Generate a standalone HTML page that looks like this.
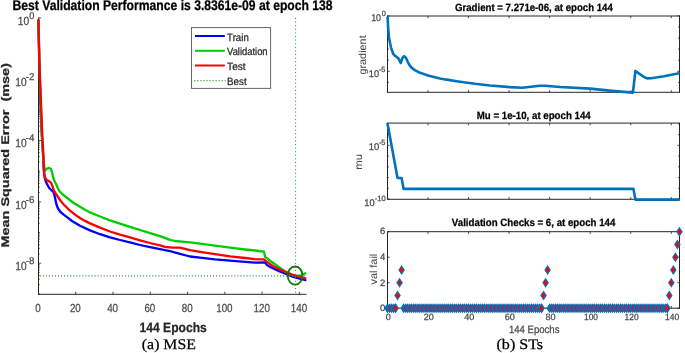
<!DOCTYPE html>
<html><head><meta charset="utf-8"><style>
html,body{margin:0;padding:0;background:#fff;}
body{width:685px;height:353px;overflow:hidden;}
svg{display:block;will-change:transform;font-family:"Liberation Sans",sans-serif;}
text{white-space:pre;text-rendering:geometricPrecision;}
</style></head><body>
<svg width="685" height="353" viewBox="0 0 685 353">
<rect width="685" height="353" fill="#fff"/>
<line x1="38.50" y1="17.80" x2="38.50" y2="294.80" stroke="#262626" stroke-width="1"/>
<line x1="38.00" y1="294.30" x2="306.50" y2="294.30" stroke="#262626" stroke-width="1"/>
<line x1="38.50" y1="294.30" x2="38.50" y2="291.70" stroke="#262626" stroke-width="0.8"/>
<line x1="75.76" y1="294.30" x2="75.76" y2="291.70" stroke="#262626" stroke-width="0.8"/>
<line x1="113.02" y1="294.30" x2="113.02" y2="291.70" stroke="#262626" stroke-width="0.8"/>
<line x1="150.28" y1="294.30" x2="150.28" y2="291.70" stroke="#262626" stroke-width="0.8"/>
<line x1="187.54" y1="294.30" x2="187.54" y2="291.70" stroke="#262626" stroke-width="0.8"/>
<line x1="224.80" y1="294.30" x2="224.80" y2="291.70" stroke="#262626" stroke-width="0.8"/>
<line x1="262.06" y1="294.30" x2="262.06" y2="291.70" stroke="#262626" stroke-width="0.8"/>
<line x1="299.32" y1="294.30" x2="299.32" y2="291.70" stroke="#262626" stroke-width="0.8"/>
<line x1="38.50" y1="17.80" x2="41.10" y2="17.80" stroke="#262626" stroke-width="0.8"/>
<line x1="38.50" y1="39.24" x2="39.90" y2="39.24" stroke="#262626" stroke-width="0.6"/>
<line x1="38.50" y1="33.84" x2="39.90" y2="33.84" stroke="#262626" stroke-width="0.6"/>
<line x1="38.50" y1="30.00" x2="39.90" y2="30.00" stroke="#262626" stroke-width="0.6"/>
<line x1="38.50" y1="27.03" x2="39.90" y2="27.03" stroke="#262626" stroke-width="0.6"/>
<line x1="38.50" y1="24.60" x2="39.90" y2="24.60" stroke="#262626" stroke-width="0.6"/>
<line x1="38.50" y1="22.55" x2="39.90" y2="22.55" stroke="#262626" stroke-width="0.6"/>
<line x1="38.50" y1="20.77" x2="39.90" y2="20.77" stroke="#262626" stroke-width="0.6"/>
<line x1="38.50" y1="19.20" x2="39.90" y2="19.20" stroke="#262626" stroke-width="0.6"/>
<line x1="38.50" y1="48.47" x2="39.90" y2="48.47" stroke="#262626" stroke-width="0.8"/>
<line x1="38.50" y1="69.91" x2="39.90" y2="69.91" stroke="#262626" stroke-width="0.6"/>
<line x1="38.50" y1="64.51" x2="39.90" y2="64.51" stroke="#262626" stroke-width="0.6"/>
<line x1="38.50" y1="60.67" x2="39.90" y2="60.67" stroke="#262626" stroke-width="0.6"/>
<line x1="38.50" y1="57.70" x2="39.90" y2="57.70" stroke="#262626" stroke-width="0.6"/>
<line x1="38.50" y1="55.27" x2="39.90" y2="55.27" stroke="#262626" stroke-width="0.6"/>
<line x1="38.50" y1="53.22" x2="39.90" y2="53.22" stroke="#262626" stroke-width="0.6"/>
<line x1="38.50" y1="51.44" x2="39.90" y2="51.44" stroke="#262626" stroke-width="0.6"/>
<line x1="38.50" y1="49.87" x2="39.90" y2="49.87" stroke="#262626" stroke-width="0.6"/>
<line x1="38.50" y1="79.14" x2="41.10" y2="79.14" stroke="#262626" stroke-width="0.8"/>
<line x1="38.50" y1="100.58" x2="39.90" y2="100.58" stroke="#262626" stroke-width="0.6"/>
<line x1="38.50" y1="95.18" x2="39.90" y2="95.18" stroke="#262626" stroke-width="0.6"/>
<line x1="38.50" y1="91.34" x2="39.90" y2="91.34" stroke="#262626" stroke-width="0.6"/>
<line x1="38.50" y1="88.37" x2="39.90" y2="88.37" stroke="#262626" stroke-width="0.6"/>
<line x1="38.50" y1="85.94" x2="39.90" y2="85.94" stroke="#262626" stroke-width="0.6"/>
<line x1="38.50" y1="83.89" x2="39.90" y2="83.89" stroke="#262626" stroke-width="0.6"/>
<line x1="38.50" y1="82.11" x2="39.90" y2="82.11" stroke="#262626" stroke-width="0.6"/>
<line x1="38.50" y1="80.54" x2="39.90" y2="80.54" stroke="#262626" stroke-width="0.6"/>
<line x1="38.50" y1="109.81" x2="39.90" y2="109.81" stroke="#262626" stroke-width="0.8"/>
<line x1="38.50" y1="131.25" x2="39.90" y2="131.25" stroke="#262626" stroke-width="0.6"/>
<line x1="38.50" y1="125.85" x2="39.90" y2="125.85" stroke="#262626" stroke-width="0.6"/>
<line x1="38.50" y1="122.01" x2="39.90" y2="122.01" stroke="#262626" stroke-width="0.6"/>
<line x1="38.50" y1="119.04" x2="39.90" y2="119.04" stroke="#262626" stroke-width="0.6"/>
<line x1="38.50" y1="116.61" x2="39.90" y2="116.61" stroke="#262626" stroke-width="0.6"/>
<line x1="38.50" y1="114.56" x2="39.90" y2="114.56" stroke="#262626" stroke-width="0.6"/>
<line x1="38.50" y1="112.78" x2="39.90" y2="112.78" stroke="#262626" stroke-width="0.6"/>
<line x1="38.50" y1="111.21" x2="39.90" y2="111.21" stroke="#262626" stroke-width="0.6"/>
<line x1="38.50" y1="140.48" x2="41.10" y2="140.48" stroke="#262626" stroke-width="0.8"/>
<line x1="38.50" y1="161.92" x2="39.90" y2="161.92" stroke="#262626" stroke-width="0.6"/>
<line x1="38.50" y1="156.52" x2="39.90" y2="156.52" stroke="#262626" stroke-width="0.6"/>
<line x1="38.50" y1="152.68" x2="39.90" y2="152.68" stroke="#262626" stroke-width="0.6"/>
<line x1="38.50" y1="149.71" x2="39.90" y2="149.71" stroke="#262626" stroke-width="0.6"/>
<line x1="38.50" y1="147.28" x2="39.90" y2="147.28" stroke="#262626" stroke-width="0.6"/>
<line x1="38.50" y1="145.23" x2="39.90" y2="145.23" stroke="#262626" stroke-width="0.6"/>
<line x1="38.50" y1="143.45" x2="39.90" y2="143.45" stroke="#262626" stroke-width="0.6"/>
<line x1="38.50" y1="141.88" x2="39.90" y2="141.88" stroke="#262626" stroke-width="0.6"/>
<line x1="38.50" y1="171.15" x2="39.90" y2="171.15" stroke="#262626" stroke-width="0.8"/>
<line x1="38.50" y1="192.59" x2="39.90" y2="192.59" stroke="#262626" stroke-width="0.6"/>
<line x1="38.50" y1="187.19" x2="39.90" y2="187.19" stroke="#262626" stroke-width="0.6"/>
<line x1="38.50" y1="183.35" x2="39.90" y2="183.35" stroke="#262626" stroke-width="0.6"/>
<line x1="38.50" y1="180.38" x2="39.90" y2="180.38" stroke="#262626" stroke-width="0.6"/>
<line x1="38.50" y1="177.95" x2="39.90" y2="177.95" stroke="#262626" stroke-width="0.6"/>
<line x1="38.50" y1="175.90" x2="39.90" y2="175.90" stroke="#262626" stroke-width="0.6"/>
<line x1="38.50" y1="174.12" x2="39.90" y2="174.12" stroke="#262626" stroke-width="0.6"/>
<line x1="38.50" y1="172.55" x2="39.90" y2="172.55" stroke="#262626" stroke-width="0.6"/>
<line x1="38.50" y1="201.82" x2="41.10" y2="201.82" stroke="#262626" stroke-width="0.8"/>
<line x1="38.50" y1="223.26" x2="39.90" y2="223.26" stroke="#262626" stroke-width="0.6"/>
<line x1="38.50" y1="217.86" x2="39.90" y2="217.86" stroke="#262626" stroke-width="0.6"/>
<line x1="38.50" y1="214.02" x2="39.90" y2="214.02" stroke="#262626" stroke-width="0.6"/>
<line x1="38.50" y1="211.05" x2="39.90" y2="211.05" stroke="#262626" stroke-width="0.6"/>
<line x1="38.50" y1="208.62" x2="39.90" y2="208.62" stroke="#262626" stroke-width="0.6"/>
<line x1="38.50" y1="206.57" x2="39.90" y2="206.57" stroke="#262626" stroke-width="0.6"/>
<line x1="38.50" y1="204.79" x2="39.90" y2="204.79" stroke="#262626" stroke-width="0.6"/>
<line x1="38.50" y1="203.22" x2="39.90" y2="203.22" stroke="#262626" stroke-width="0.6"/>
<line x1="38.50" y1="232.49" x2="39.90" y2="232.49" stroke="#262626" stroke-width="0.8"/>
<line x1="38.50" y1="253.93" x2="39.90" y2="253.93" stroke="#262626" stroke-width="0.6"/>
<line x1="38.50" y1="248.53" x2="39.90" y2="248.53" stroke="#262626" stroke-width="0.6"/>
<line x1="38.50" y1="244.69" x2="39.90" y2="244.69" stroke="#262626" stroke-width="0.6"/>
<line x1="38.50" y1="241.72" x2="39.90" y2="241.72" stroke="#262626" stroke-width="0.6"/>
<line x1="38.50" y1="239.29" x2="39.90" y2="239.29" stroke="#262626" stroke-width="0.6"/>
<line x1="38.50" y1="237.24" x2="39.90" y2="237.24" stroke="#262626" stroke-width="0.6"/>
<line x1="38.50" y1="235.46" x2="39.90" y2="235.46" stroke="#262626" stroke-width="0.6"/>
<line x1="38.50" y1="233.89" x2="39.90" y2="233.89" stroke="#262626" stroke-width="0.6"/>
<line x1="38.50" y1="263.16" x2="41.10" y2="263.16" stroke="#262626" stroke-width="0.8"/>
<line x1="38.50" y1="284.60" x2="39.90" y2="284.60" stroke="#262626" stroke-width="0.6"/>
<line x1="38.50" y1="279.20" x2="39.90" y2="279.20" stroke="#262626" stroke-width="0.6"/>
<line x1="38.50" y1="275.36" x2="39.90" y2="275.36" stroke="#262626" stroke-width="0.6"/>
<line x1="38.50" y1="272.39" x2="39.90" y2="272.39" stroke="#262626" stroke-width="0.6"/>
<line x1="38.50" y1="269.96" x2="39.90" y2="269.96" stroke="#262626" stroke-width="0.6"/>
<line x1="38.50" y1="267.91" x2="39.90" y2="267.91" stroke="#262626" stroke-width="0.6"/>
<line x1="38.50" y1="266.13" x2="39.90" y2="266.13" stroke="#262626" stroke-width="0.6"/>
<line x1="38.50" y1="264.56" x2="39.90" y2="264.56" stroke="#262626" stroke-width="0.6"/>
<line x1="38.50" y1="293.83" x2="39.90" y2="293.83" stroke="#262626" stroke-width="0.8"/>
<polyline points="38.40,21.00 39.30,60.00 40.30,100.00 41.80,135.00 43.10,155.00 43.80,170.00 44.60,177.50 45.60,181.00 47.10,184.30 49.20,188.00 51.30,190.00 53.20,191.50 54.50,195.50 55.50,200.00 56.50,204.50 58.00,208.50 60.50,212.00 64.00,214.80 68.00,217.80 72.00,221.00 80.00,225.80 90.00,230.40 100.00,234.20 110.00,237.40 120.00,240.00 130.00,242.40 140.00,245.00 150.00,247.20 160.00,249.20 170.00,251.20 180.00,253.80 190.00,256.50 200.00,257.70 215.00,259.40 230.00,260.70 245.00,261.90 255.00,262.60 264.90,262.50 267.30,265.20 270.80,267.20 279.10,271.10 285.50,273.70 293.20,276.90 305.30,280.10" fill="none" stroke="#0000ff" stroke-width="2.3" stroke-linejoin="round" stroke-linecap="round"/>
<polyline points="38.40,21.00 39.30,60.00 40.50,100.00 41.90,135.00 43.30,160.00 45.00,170.70 47.10,168.50 49.20,167.80 51.00,169.20 52.00,172.50 53.20,177.50 54.50,181.00 56.00,184.00 58.00,188.50 60.00,191.80 62.00,193.80 64.00,195.50 68.00,198.50 70.00,200.20 75.00,203.80 80.00,206.80 85.00,209.80 90.00,212.40 100.00,216.50 110.00,220.30 120.00,223.70 130.00,226.90 140.00,230.00 150.00,233.20 160.00,236.20 170.00,239.80 175.00,241.00 182.00,241.60 190.00,242.30 200.00,243.60 215.00,245.70 230.00,247.70 245.00,249.50 255.00,250.50 263.90,251.60 265.30,257.30 267.30,258.30 270.80,261.30 279.10,267.30 285.50,271.80 293.20,275.40 300.80,275.60 305.30,273.30" fill="none" stroke="#00cc00" stroke-width="2.3" stroke-linejoin="round" stroke-linecap="round"/>
<polyline points="38.40,20.00 39.30,60.00 40.30,85.00 41.00,103.00 42.00,128.00 42.50,140.00 43.30,153.60 43.80,167.30 44.30,174.00 45.20,178.00 46.50,180.00 48.50,181.00 50.20,182.00 51.30,183.20 52.60,186.50 53.60,190.00 56.00,194.00 58.00,197.00 60.00,200.00 62.00,202.50 64.00,204.70 68.00,208.70 70.00,210.70 75.00,214.60 80.00,218.00 85.00,220.90 90.00,223.40 100.00,227.60 110.00,231.50 120.00,234.60 130.00,237.40 140.00,240.30 150.00,243.00 160.00,245.40 165.00,246.80 172.00,247.60 180.00,247.60 190.00,250.10 200.00,251.80 215.00,254.20 230.00,256.30 245.00,258.00 255.00,259.10 263.90,259.30 265.80,260.80 269.80,263.80 272.80,266.00 279.10,269.20 285.50,271.80 293.20,275.00 305.30,278.40" fill="none" stroke="#ff0000" stroke-width="2.3" stroke-linejoin="round" stroke-linecap="round"/>
<line x1="295.59" y1="18" x2="295.59" y2="294.30" stroke="#259025" stroke-width="1" stroke-dasharray="1 2.6"/>
<line x1="39.80" y1="275.85" x2="306.50" y2="275.85" stroke="#259025" stroke-width="1.2" stroke-dasharray="1 2.04"/>
<ellipse cx="295.1" cy="275.6" rx="7.4" ry="9.1" fill="none" stroke="#087808" stroke-width="1.8"/>
<text x="38.10" y="312.30" font-size="11.70" fill="#4a4a4a" stroke="#4a4a4a" stroke-width="0.25" text-anchor="middle" textLength="5.49" lengthAdjust="spacingAndGlyphs">0</text>
<text x="75.36" y="312.30" font-size="11.70" fill="#4a4a4a" stroke="#4a4a4a" stroke-width="0.25" text-anchor="middle" textLength="10.89" lengthAdjust="spacingAndGlyphs">20</text>
<text x="112.62" y="312.30" font-size="11.70" fill="#4a4a4a" stroke="#4a4a4a" stroke-width="0.25" text-anchor="middle" textLength="10.89" lengthAdjust="spacingAndGlyphs">40</text>
<text x="149.88" y="312.30" font-size="11.70" fill="#4a4a4a" stroke="#4a4a4a" stroke-width="0.25" text-anchor="middle" textLength="10.89" lengthAdjust="spacingAndGlyphs">60</text>
<text x="187.14" y="312.30" font-size="11.70" fill="#4a4a4a" stroke="#4a4a4a" stroke-width="0.25" text-anchor="middle" textLength="10.89" lengthAdjust="spacingAndGlyphs">80</text>
<text x="224.40" y="312.30" font-size="11.70" fill="#4a4a4a" stroke="#4a4a4a" stroke-width="0.25" text-anchor="middle" textLength="16.38" lengthAdjust="spacingAndGlyphs">100</text>
<text x="261.66" y="312.30" font-size="11.70" fill="#4a4a4a" stroke="#4a4a4a" stroke-width="0.25" text-anchor="middle" textLength="16.38" lengthAdjust="spacingAndGlyphs">120</text>
<text x="298.92" y="312.30" font-size="11.70" fill="#4a4a4a" stroke="#4a4a4a" stroke-width="0.25" text-anchor="middle" textLength="16.38" lengthAdjust="spacingAndGlyphs">140</text>
<text x="17.77" y="24.60" font-size="11.80" fill="#4a4a4a" stroke="#4a4a4a" stroke-width="0.25" textLength="11.40" lengthAdjust="spacingAndGlyphs">10</text>
<text x="29.30" y="18.60" font-size="9.80" fill="#4a4a4a" stroke="#4a4a4a" stroke-width="0.25" textLength="5.10" lengthAdjust="spacingAndGlyphs">0</text>
<text x="15.20" y="85.94" font-size="11.80" fill="#4a4a4a" stroke="#4a4a4a" stroke-width="0.25" textLength="11.40" lengthAdjust="spacingAndGlyphs">10</text>
<text x="25.67" y="80.04" font-size="9.80" fill="#4a4a4a" stroke="#4a4a4a" stroke-width="0.25" textLength="8.63" lengthAdjust="spacingAndGlyphs">-2</text>
<text x="15.20" y="147.28" font-size="11.80" fill="#4a4a4a" stroke="#4a4a4a" stroke-width="0.25" textLength="11.40" lengthAdjust="spacingAndGlyphs">10</text>
<text x="25.67" y="141.38" font-size="9.80" fill="#4a4a4a" stroke="#4a4a4a" stroke-width="0.25" textLength="8.63" lengthAdjust="spacingAndGlyphs">-4</text>
<text x="15.20" y="208.62" font-size="11.80" fill="#4a4a4a" stroke="#4a4a4a" stroke-width="0.25" textLength="11.40" lengthAdjust="spacingAndGlyphs">10</text>
<text x="25.67" y="202.72" font-size="9.80" fill="#4a4a4a" stroke="#4a4a4a" stroke-width="0.25" textLength="8.63" lengthAdjust="spacingAndGlyphs">-6</text>
<text x="15.20" y="269.96" font-size="11.80" fill="#4a4a4a" stroke="#4a4a4a" stroke-width="0.25" textLength="11.40" lengthAdjust="spacingAndGlyphs">10</text>
<text x="25.67" y="264.06" font-size="9.80" fill="#4a4a4a" stroke="#4a4a4a" stroke-width="0.25" textLength="8.63" lengthAdjust="spacingAndGlyphs">-8</text>
<text x="12.52" y="10.45" font-size="14.00" font-weight="bold" fill="#000" stroke="#000" stroke-width="0.25" textLength="320.10" lengthAdjust="spacingAndGlyphs">Best Validation Performance is 3.8361e-09 at epoch 138</text>
<text transform="translate(8.60,247.46) rotate(-90)" font-size="11.04" font-weight="bold" fill="#262626" stroke="#262626" stroke-width="0.25" textLength="184.40" lengthAdjust="spacingAndGlyphs">Mean Squared Error&#160;&#160;(mse)</text>
<text x="139.60" y="331.85" font-size="13.48" font-weight="bold" fill="#262626" stroke="#262626" stroke-width="0.25" textLength="67.20" lengthAdjust="spacingAndGlyphs">144 Epochs</text>
<text x="141.85" y="349.30" font-family='"Liberation Serif", serif' font-size="14.70" fill="#000" stroke="#000" stroke-width="0.25" textLength="54.10" lengthAdjust="spacingAndGlyphs">(a) MSE</text>
<rect x="191.5" y="27.6" width="79.1" height="60.8" fill="#fff" stroke="#666" stroke-width="1"/>
<line x1="195.00" y1="36.00" x2="224.80" y2="36.00" stroke="#0000ff" stroke-width="2"/>
<line x1="195.00" y1="50.80" x2="224.80" y2="50.80" stroke="#00cc00" stroke-width="2"/>
<line x1="195.00" y1="65.50" x2="224.80" y2="65.50" stroke="#ff0000" stroke-width="2"/>
<line x1="194.3" y1="80.6" x2="225.5" y2="80.6" stroke="#259025" stroke-width="1.2" stroke-dasharray="1 2.04"/>
<text x="227.10" y="40.50" font-size="10.50" fill="#262626" stroke="#262626" stroke-width="0.25" textLength="21.70" lengthAdjust="spacingAndGlyphs">Train</text>
<text x="227.10" y="55.30" font-size="10.50" fill="#262626" stroke="#262626" stroke-width="0.25" textLength="40.50" lengthAdjust="spacingAndGlyphs">Validation</text>
<text x="227.10" y="70.00" font-size="10.50" fill="#262626" stroke="#262626" stroke-width="0.25" textLength="18.60" lengthAdjust="spacingAndGlyphs">Test</text>
<text x="227.10" y="84.70" font-size="10.50" fill="#262626" stroke="#262626" stroke-width="0.25" textLength="19.50" lengthAdjust="spacingAndGlyphs">Best</text>
<line x1="387.50" y1="16.00" x2="679.50" y2="16.00" stroke="#262626" stroke-width="1"/>
<line x1="387.50" y1="92.30" x2="679.50" y2="92.30" stroke="#262626" stroke-width="1"/>
<line x1="387.50" y1="15.50" x2="387.50" y2="92.80" stroke="#262626" stroke-width="1"/>
<line x1="679.50" y1="15.50" x2="679.50" y2="92.80" stroke="#262626" stroke-width="1"/>
<line x1="387.40" y1="92.30" x2="387.40" y2="90.10" stroke="#262626" stroke-width="0.8"/>
<line x1="387.40" y1="16.00" x2="387.40" y2="18.20" stroke="#262626" stroke-width="0.8"/>
<line x1="427.96" y1="92.30" x2="427.96" y2="90.10" stroke="#262626" stroke-width="0.8"/>
<line x1="427.96" y1="16.00" x2="427.96" y2="18.20" stroke="#262626" stroke-width="0.8"/>
<line x1="468.52" y1="92.30" x2="468.52" y2="90.10" stroke="#262626" stroke-width="0.8"/>
<line x1="468.52" y1="16.00" x2="468.52" y2="18.20" stroke="#262626" stroke-width="0.8"/>
<line x1="509.08" y1="92.30" x2="509.08" y2="90.10" stroke="#262626" stroke-width="0.8"/>
<line x1="509.08" y1="16.00" x2="509.08" y2="18.20" stroke="#262626" stroke-width="0.8"/>
<line x1="549.64" y1="92.30" x2="549.64" y2="90.10" stroke="#262626" stroke-width="0.8"/>
<line x1="549.64" y1="16.00" x2="549.64" y2="18.20" stroke="#262626" stroke-width="0.8"/>
<line x1="590.20" y1="92.30" x2="590.20" y2="90.10" stroke="#262626" stroke-width="0.8"/>
<line x1="590.20" y1="16.00" x2="590.20" y2="18.20" stroke="#262626" stroke-width="0.8"/>
<line x1="630.76" y1="92.30" x2="630.76" y2="90.10" stroke="#262626" stroke-width="0.8"/>
<line x1="630.76" y1="16.00" x2="630.76" y2="18.20" stroke="#262626" stroke-width="0.8"/>
<line x1="671.32" y1="92.30" x2="671.32" y2="90.10" stroke="#262626" stroke-width="0.8"/>
<line x1="671.32" y1="16.00" x2="671.32" y2="18.20" stroke="#262626" stroke-width="0.8"/>
<line x1="387.50" y1="15.80" x2="389.70" y2="15.80" stroke="#262626" stroke-width="0.8"/>
<line x1="679.50" y1="15.80" x2="677.30" y2="15.80" stroke="#262626" stroke-width="0.8"/>
<line x1="387.50" y1="26.90" x2="388.90" y2="26.90" stroke="#262626" stroke-width="0.8"/>
<line x1="679.50" y1="26.90" x2="678.10" y2="26.90" stroke="#262626" stroke-width="0.8"/>
<line x1="387.50" y1="38.00" x2="388.90" y2="38.00" stroke="#262626" stroke-width="0.8"/>
<line x1="679.50" y1="38.00" x2="678.10" y2="38.00" stroke="#262626" stroke-width="0.8"/>
<line x1="387.50" y1="49.10" x2="388.90" y2="49.10" stroke="#262626" stroke-width="0.8"/>
<line x1="679.50" y1="49.10" x2="678.10" y2="49.10" stroke="#262626" stroke-width="0.8"/>
<line x1="387.50" y1="60.20" x2="388.90" y2="60.20" stroke="#262626" stroke-width="0.8"/>
<line x1="679.50" y1="60.20" x2="678.10" y2="60.20" stroke="#262626" stroke-width="0.8"/>
<line x1="387.50" y1="71.30" x2="389.70" y2="71.30" stroke="#262626" stroke-width="0.8"/>
<line x1="679.50" y1="71.30" x2="677.30" y2="71.30" stroke="#262626" stroke-width="0.8"/>
<line x1="387.50" y1="82.40" x2="388.90" y2="82.40" stroke="#262626" stroke-width="0.8"/>
<line x1="679.50" y1="82.40" x2="678.10" y2="82.40" stroke="#262626" stroke-width="0.8"/>
<polyline points="387.60,16.60 388.00,25.80 389.00,37.70 391.00,47.60 393.40,54.20 395.00,55.80 398.40,58.40 400.70,63.00 402.60,57.60 404.10,56.10 405.90,57.80 407.60,61.50 409.20,64.60 411.50,67.60 414.80,70.10 420.00,72.80 429.00,75.70 440.00,78.40 445.00,79.40 460.00,81.70 475.00,83.80 490.00,85.50 510.00,87.10 522.30,87.70 531.00,86.80 539.80,85.70 545.00,85.70 560.00,87.00 590.10,88.60 614.70,91.10 632.90,92.60 635.40,71.00 640.60,74.60 644.50,77.30 647.60,78.40 651.00,78.20 656.00,77.50 664.00,76.20 671.30,74.70 679.50,73.20" fill="none" stroke="#0072bd" stroke-width="2.6" stroke-linejoin="round" stroke-linecap="butt"/>
<text x="455.01" y="11.00" font-size="10.50" font-weight="bold" fill="#000" stroke="#000" stroke-width="0.25" textLength="157.80" lengthAdjust="spacingAndGlyphs">Gradient = 7.271e-06, at epoch 144</text>
<text transform="translate(365.60,74.60) rotate(-90)" font-size="10.30" fill="#4a4a4a" stroke="#4a4a4a" stroke-width="0.05" textLength="39.30" lengthAdjust="spacingAndGlyphs">gradient</text>
<text x="371.14" y="21.04" font-size="9.70" fill="#4a4a4a" stroke="#4a4a4a" stroke-width="0.25" textLength="9.90" lengthAdjust="spacingAndGlyphs">10</text>
<text x="381.73" y="16.10" font-size="7.60" fill="#4a4a4a" stroke="#4a4a4a" stroke-width="0.25" textLength="4.10" lengthAdjust="spacingAndGlyphs">0</text>
<text x="368.82" y="76.60" font-size="9.70" fill="#4a4a4a" stroke="#4a4a4a" stroke-width="0.25" textLength="10.30" lengthAdjust="spacingAndGlyphs">10</text>
<text x="378.90" y="72.10" font-size="7.60" fill="#4a4a4a" stroke="#4a4a4a" stroke-width="0.25" textLength="6.60" lengthAdjust="spacingAndGlyphs">-5</text>
<line x1="387.50" y1="123.10" x2="679.50" y2="123.10" stroke="#262626" stroke-width="1"/>
<line x1="387.50" y1="199.30" x2="679.50" y2="199.30" stroke="#262626" stroke-width="1"/>
<line x1="387.50" y1="122.60" x2="387.50" y2="199.80" stroke="#262626" stroke-width="1"/>
<line x1="679.50" y1="122.60" x2="679.50" y2="199.80" stroke="#262626" stroke-width="1"/>
<line x1="387.40" y1="199.30" x2="387.40" y2="197.10" stroke="#262626" stroke-width="0.8"/>
<line x1="387.40" y1="123.10" x2="387.40" y2="125.30" stroke="#262626" stroke-width="0.8"/>
<line x1="427.96" y1="199.30" x2="427.96" y2="197.10" stroke="#262626" stroke-width="0.8"/>
<line x1="427.96" y1="123.10" x2="427.96" y2="125.30" stroke="#262626" stroke-width="0.8"/>
<line x1="468.52" y1="199.30" x2="468.52" y2="197.10" stroke="#262626" stroke-width="0.8"/>
<line x1="468.52" y1="123.10" x2="468.52" y2="125.30" stroke="#262626" stroke-width="0.8"/>
<line x1="509.08" y1="199.30" x2="509.08" y2="197.10" stroke="#262626" stroke-width="0.8"/>
<line x1="509.08" y1="123.10" x2="509.08" y2="125.30" stroke="#262626" stroke-width="0.8"/>
<line x1="549.64" y1="199.30" x2="549.64" y2="197.10" stroke="#262626" stroke-width="0.8"/>
<line x1="549.64" y1="123.10" x2="549.64" y2="125.30" stroke="#262626" stroke-width="0.8"/>
<line x1="590.20" y1="199.30" x2="590.20" y2="197.10" stroke="#262626" stroke-width="0.8"/>
<line x1="590.20" y1="123.10" x2="590.20" y2="125.30" stroke="#262626" stroke-width="0.8"/>
<line x1="630.76" y1="199.30" x2="630.76" y2="197.10" stroke="#262626" stroke-width="0.8"/>
<line x1="630.76" y1="123.10" x2="630.76" y2="125.30" stroke="#262626" stroke-width="0.8"/>
<line x1="671.32" y1="199.30" x2="671.32" y2="197.10" stroke="#262626" stroke-width="0.8"/>
<line x1="671.32" y1="123.10" x2="671.32" y2="125.30" stroke="#262626" stroke-width="0.8"/>
<line x1="387.50" y1="123.86" x2="388.90" y2="123.86" stroke="#262626" stroke-width="0.8"/>
<line x1="679.50" y1="123.86" x2="678.10" y2="123.86" stroke="#262626" stroke-width="0.8"/>
<line x1="387.50" y1="134.60" x2="388.90" y2="134.60" stroke="#262626" stroke-width="0.8"/>
<line x1="679.50" y1="134.60" x2="678.10" y2="134.60" stroke="#262626" stroke-width="0.8"/>
<line x1="387.50" y1="145.34" x2="389.70" y2="145.34" stroke="#262626" stroke-width="0.8"/>
<line x1="679.50" y1="145.34" x2="677.30" y2="145.34" stroke="#262626" stroke-width="0.8"/>
<line x1="387.50" y1="156.08" x2="388.90" y2="156.08" stroke="#262626" stroke-width="0.8"/>
<line x1="679.50" y1="156.08" x2="678.10" y2="156.08" stroke="#262626" stroke-width="0.8"/>
<line x1="387.50" y1="166.82" x2="388.90" y2="166.82" stroke="#262626" stroke-width="0.8"/>
<line x1="679.50" y1="166.82" x2="678.10" y2="166.82" stroke="#262626" stroke-width="0.8"/>
<line x1="387.50" y1="177.56" x2="388.90" y2="177.56" stroke="#262626" stroke-width="0.8"/>
<line x1="679.50" y1="177.56" x2="678.10" y2="177.56" stroke="#262626" stroke-width="0.8"/>
<line x1="387.50" y1="188.30" x2="388.90" y2="188.30" stroke="#262626" stroke-width="0.8"/>
<line x1="679.50" y1="188.30" x2="678.10" y2="188.30" stroke="#262626" stroke-width="0.8"/>
<line x1="387.50" y1="199.04" x2="389.70" y2="199.04" stroke="#262626" stroke-width="0.8"/>
<line x1="679.50" y1="199.04" x2="677.30" y2="199.04" stroke="#262626" stroke-width="0.8"/>
<polyline points="387.40,123.10 397.54,177.96 401.60,177.96 403.62,188.90 633.40,188.90 635.42,199.60 679.80,199.60" fill="none" stroke="#0072bd" stroke-width="2.6" stroke-linejoin="round" stroke-linecap="butt"/>
<text x="476.80" y="118.50" font-size="10.50" font-weight="bold" fill="#000" stroke="#000" stroke-width="0.25" textLength="113.90" lengthAdjust="spacingAndGlyphs">Mu = 1e-10, at epoch 144</text>
<text transform="translate(362.10,169.75) rotate(-90)" font-size="10.30" fill="#4a4a4a" stroke="#4a4a4a" stroke-width="0.05" textLength="15.80" lengthAdjust="spacingAndGlyphs">mu</text>
<text x="368.83" y="150.30" font-size="9.70" fill="#4a4a4a" stroke="#4a4a4a" stroke-width="0.25" textLength="10.40" lengthAdjust="spacingAndGlyphs">10</text>
<text x="378.90" y="145.40" font-size="7.60" fill="#4a4a4a" stroke="#4a4a4a" stroke-width="0.25" textLength="6.60" lengthAdjust="spacingAndGlyphs">-5</text>
<text x="364.36" y="205.50" font-size="9.70" fill="#4a4a4a" stroke="#4a4a4a" stroke-width="0.25" textLength="10.40" lengthAdjust="spacingAndGlyphs">10</text>
<text x="374.80" y="200.90" font-size="7.60" fill="#4a4a4a" stroke="#4a4a4a" stroke-width="0.25" textLength="10.80" lengthAdjust="spacingAndGlyphs">-10</text>
<line x1="387.50" y1="231.70" x2="679.50" y2="231.70" stroke="#262626" stroke-width="1"/>
<line x1="387.50" y1="308.20" x2="679.50" y2="308.20" stroke="#262626" stroke-width="1"/>
<line x1="387.50" y1="231.20" x2="387.50" y2="308.70" stroke="#262626" stroke-width="1"/>
<line x1="679.50" y1="231.20" x2="679.50" y2="308.70" stroke="#262626" stroke-width="1"/>
<line x1="387.40" y1="308.20" x2="387.40" y2="306.00" stroke="#262626" stroke-width="0.8"/>
<line x1="387.40" y1="231.70" x2="387.40" y2="233.90" stroke="#262626" stroke-width="0.8"/>
<line x1="427.96" y1="308.20" x2="427.96" y2="306.00" stroke="#262626" stroke-width="0.8"/>
<line x1="427.96" y1="231.70" x2="427.96" y2="233.90" stroke="#262626" stroke-width="0.8"/>
<line x1="468.52" y1="308.20" x2="468.52" y2="306.00" stroke="#262626" stroke-width="0.8"/>
<line x1="468.52" y1="231.70" x2="468.52" y2="233.90" stroke="#262626" stroke-width="0.8"/>
<line x1="509.08" y1="308.20" x2="509.08" y2="306.00" stroke="#262626" stroke-width="0.8"/>
<line x1="509.08" y1="231.70" x2="509.08" y2="233.90" stroke="#262626" stroke-width="0.8"/>
<line x1="549.64" y1="308.20" x2="549.64" y2="306.00" stroke="#262626" stroke-width="0.8"/>
<line x1="549.64" y1="231.70" x2="549.64" y2="233.90" stroke="#262626" stroke-width="0.8"/>
<line x1="590.20" y1="308.20" x2="590.20" y2="306.00" stroke="#262626" stroke-width="0.8"/>
<line x1="590.20" y1="231.70" x2="590.20" y2="233.90" stroke="#262626" stroke-width="0.8"/>
<line x1="630.76" y1="308.20" x2="630.76" y2="306.00" stroke="#262626" stroke-width="0.8"/>
<line x1="630.76" y1="231.70" x2="630.76" y2="233.90" stroke="#262626" stroke-width="0.8"/>
<line x1="671.32" y1="308.20" x2="671.32" y2="306.00" stroke="#262626" stroke-width="0.8"/>
<line x1="671.32" y1="231.70" x2="671.32" y2="233.90" stroke="#262626" stroke-width="0.8"/>
<line x1="387.50" y1="308.20" x2="389.70" y2="308.20" stroke="#262626" stroke-width="0.8"/>
<line x1="679.50" y1="308.20" x2="677.30" y2="308.20" stroke="#262626" stroke-width="0.8"/>
<line x1="387.50" y1="282.70" x2="389.70" y2="282.70" stroke="#262626" stroke-width="0.8"/>
<line x1="679.50" y1="282.70" x2="677.30" y2="282.70" stroke="#262626" stroke-width="0.8"/>
<line x1="387.50" y1="257.20" x2="389.70" y2="257.20" stroke="#262626" stroke-width="0.8"/>
<line x1="679.50" y1="257.20" x2="677.30" y2="257.20" stroke="#262626" stroke-width="0.8"/>
<line x1="387.50" y1="231.70" x2="389.70" y2="231.70" stroke="#262626" stroke-width="0.8"/>
<line x1="679.50" y1="231.70" x2="677.30" y2="231.70" stroke="#262626" stroke-width="0.8"/>
<path d="M384.10,308.20L387.40,303.20L390.70,308.20L387.40,313.20Z" fill="#0072bd"/>
<path d="M386.13,308.20L389.43,303.20L392.73,308.20L389.43,313.20Z" fill="#0072bd"/>
<path d="M388.16,308.20L391.46,303.20L394.76,308.20L391.46,313.20Z" fill="#0072bd"/>
<path d="M390.18,308.20L393.48,303.20L396.78,308.20L393.48,313.20Z" fill="#0072bd"/>
<path d="M392.21,308.20L395.51,303.20L398.81,308.20L395.51,313.20Z" fill="#0072bd"/>
<polyline points="390.73,304.90 388.43,308.20 390.73,311.50" fill="none" stroke="#c81830" stroke-width="1.1"/>
<polyline points="394.78,304.90 392.48,308.20 394.78,311.50" fill="none" stroke="#c81830" stroke-width="1.1"/>
<path d="M392.21,308.20L395.51,303.20L398.81,308.20L395.51,313.20Z" fill="#0072bd"/>
<path d="M393.46,308.20L395.51,305.15L397.56,308.20L395.51,311.25Z" fill="#f00"/>
<path d="M400.32,308.20L403.62,303.20L406.92,308.20L403.62,313.20Z" fill="#0072bd"/>
<path d="M402.35,308.20L405.65,303.20L408.95,308.20L405.65,313.20Z" fill="#0072bd"/>
<path d="M404.38,308.20L407.68,303.20L410.98,308.20L407.68,313.20Z" fill="#0072bd"/>
<path d="M406.41,308.20L409.71,303.20L413.01,308.20L409.71,313.20Z" fill="#0072bd"/>
<path d="M408.44,308.20L411.74,303.20L415.04,308.20L411.74,313.20Z" fill="#0072bd"/>
<path d="M410.46,308.20L413.76,303.20L417.06,308.20L413.76,313.20Z" fill="#0072bd"/>
<path d="M412.49,308.20L415.79,303.20L419.09,308.20L415.79,313.20Z" fill="#0072bd"/>
<path d="M414.52,308.20L417.82,303.20L421.12,308.20L417.82,313.20Z" fill="#0072bd"/>
<path d="M416.55,308.20L419.85,303.20L423.15,308.20L419.85,313.20Z" fill="#0072bd"/>
<path d="M418.58,308.20L421.88,303.20L425.18,308.20L421.88,313.20Z" fill="#0072bd"/>
<path d="M420.60,308.20L423.90,303.20L427.20,308.20L423.90,313.20Z" fill="#0072bd"/>
<path d="M422.63,308.20L425.93,303.20L429.23,308.20L425.93,313.20Z" fill="#0072bd"/>
<path d="M424.66,308.20L427.96,303.20L431.26,308.20L427.96,313.20Z" fill="#0072bd"/>
<path d="M426.69,308.20L429.99,303.20L433.29,308.20L429.99,313.20Z" fill="#0072bd"/>
<path d="M428.72,308.20L432.02,303.20L435.32,308.20L432.02,313.20Z" fill="#0072bd"/>
<path d="M430.74,308.20L434.04,303.20L437.34,308.20L434.04,313.20Z" fill="#0072bd"/>
<path d="M432.77,308.20L436.07,303.20L439.37,308.20L436.07,313.20Z" fill="#0072bd"/>
<path d="M434.80,308.20L438.10,303.20L441.40,308.20L438.10,313.20Z" fill="#0072bd"/>
<path d="M436.83,308.20L440.13,303.20L443.43,308.20L440.13,313.20Z" fill="#0072bd"/>
<path d="M438.86,308.20L442.16,303.20L445.46,308.20L442.16,313.20Z" fill="#0072bd"/>
<path d="M440.88,308.20L444.18,303.20L447.48,308.20L444.18,313.20Z" fill="#0072bd"/>
<path d="M442.91,308.20L446.21,303.20L449.51,308.20L446.21,313.20Z" fill="#0072bd"/>
<path d="M444.94,308.20L448.24,303.20L451.54,308.20L448.24,313.20Z" fill="#0072bd"/>
<path d="M446.97,308.20L450.27,303.20L453.57,308.20L450.27,313.20Z" fill="#0072bd"/>
<path d="M449.00,308.20L452.30,303.20L455.60,308.20L452.30,313.20Z" fill="#0072bd"/>
<path d="M451.02,308.20L454.32,303.20L457.62,308.20L454.32,313.20Z" fill="#0072bd"/>
<path d="M453.05,308.20L456.35,303.20L459.65,308.20L456.35,313.20Z" fill="#0072bd"/>
<path d="M455.08,308.20L458.38,303.20L461.68,308.20L458.38,313.20Z" fill="#0072bd"/>
<path d="M457.11,308.20L460.41,303.20L463.71,308.20L460.41,313.20Z" fill="#0072bd"/>
<path d="M459.14,308.20L462.44,303.20L465.74,308.20L462.44,313.20Z" fill="#0072bd"/>
<path d="M461.16,308.20L464.46,303.20L467.76,308.20L464.46,313.20Z" fill="#0072bd"/>
<path d="M463.19,308.20L466.49,303.20L469.79,308.20L466.49,313.20Z" fill="#0072bd"/>
<path d="M465.22,308.20L468.52,303.20L471.82,308.20L468.52,313.20Z" fill="#0072bd"/>
<path d="M467.25,308.20L470.55,303.20L473.85,308.20L470.55,313.20Z" fill="#0072bd"/>
<path d="M469.28,308.20L472.58,303.20L475.88,308.20L472.58,313.20Z" fill="#0072bd"/>
<path d="M471.30,308.20L474.60,303.20L477.90,308.20L474.60,313.20Z" fill="#0072bd"/>
<path d="M473.33,308.20L476.63,303.20L479.93,308.20L476.63,313.20Z" fill="#0072bd"/>
<path d="M475.36,308.20L478.66,303.20L481.96,308.20L478.66,313.20Z" fill="#0072bd"/>
<path d="M477.39,308.20L480.69,303.20L483.99,308.20L480.69,313.20Z" fill="#0072bd"/>
<path d="M479.42,308.20L482.72,303.20L486.02,308.20L482.72,313.20Z" fill="#0072bd"/>
<path d="M481.44,308.20L484.74,303.20L488.04,308.20L484.74,313.20Z" fill="#0072bd"/>
<path d="M483.47,308.20L486.77,303.20L490.07,308.20L486.77,313.20Z" fill="#0072bd"/>
<path d="M485.50,308.20L488.80,303.20L492.10,308.20L488.80,313.20Z" fill="#0072bd"/>
<path d="M487.53,308.20L490.83,303.20L494.13,308.20L490.83,313.20Z" fill="#0072bd"/>
<path d="M489.56,308.20L492.86,303.20L496.16,308.20L492.86,313.20Z" fill="#0072bd"/>
<path d="M491.58,308.20L494.88,303.20L498.18,308.20L494.88,313.20Z" fill="#0072bd"/>
<path d="M493.61,308.20L496.91,303.20L500.21,308.20L496.91,313.20Z" fill="#0072bd"/>
<path d="M495.64,308.20L498.94,303.20L502.24,308.20L498.94,313.20Z" fill="#0072bd"/>
<path d="M497.67,308.20L500.97,303.20L504.27,308.20L500.97,313.20Z" fill="#0072bd"/>
<path d="M499.70,308.20L503.00,303.20L506.30,308.20L503.00,313.20Z" fill="#0072bd"/>
<path d="M501.72,308.20L505.02,303.20L508.32,308.20L505.02,313.20Z" fill="#0072bd"/>
<path d="M503.75,308.20L507.05,303.20L510.35,308.20L507.05,313.20Z" fill="#0072bd"/>
<path d="M505.78,308.20L509.08,303.20L512.38,308.20L509.08,313.20Z" fill="#0072bd"/>
<path d="M507.81,308.20L511.11,303.20L514.41,308.20L511.11,313.20Z" fill="#0072bd"/>
<path d="M509.84,308.20L513.14,303.20L516.44,308.20L513.14,313.20Z" fill="#0072bd"/>
<path d="M511.86,308.20L515.16,303.20L518.46,308.20L515.16,313.20Z" fill="#0072bd"/>
<path d="M513.89,308.20L517.19,303.20L520.49,308.20L517.19,313.20Z" fill="#0072bd"/>
<path d="M515.92,308.20L519.22,303.20L522.52,308.20L519.22,313.20Z" fill="#0072bd"/>
<path d="M517.95,308.20L521.25,303.20L524.55,308.20L521.25,313.20Z" fill="#0072bd"/>
<path d="M519.98,308.20L523.28,303.20L526.58,308.20L523.28,313.20Z" fill="#0072bd"/>
<path d="M522.00,308.20L525.30,303.20L528.60,308.20L525.30,313.20Z" fill="#0072bd"/>
<path d="M524.03,308.20L527.33,303.20L530.63,308.20L527.33,313.20Z" fill="#0072bd"/>
<path d="M526.06,308.20L529.36,303.20L532.66,308.20L529.36,313.20Z" fill="#0072bd"/>
<path d="M528.09,308.20L531.39,303.20L534.69,308.20L531.39,313.20Z" fill="#0072bd"/>
<path d="M530.12,308.20L533.42,303.20L536.72,308.20L533.42,313.20Z" fill="#0072bd"/>
<path d="M532.14,308.20L535.44,303.20L538.74,308.20L535.44,313.20Z" fill="#0072bd"/>
<path d="M534.17,308.20L537.47,303.20L540.77,308.20L537.47,313.20Z" fill="#0072bd"/>
<path d="M536.20,308.20L539.50,303.20L542.80,308.20L539.50,313.20Z" fill="#0072bd"/>
<path d="M538.23,308.20L541.53,303.20L544.83,308.20L541.53,313.20Z" fill="#0072bd"/>
<polyline points="406.95,304.90 404.65,308.20 406.95,311.50" fill="none" stroke="#c81830" stroke-width="1.1"/>
<polyline points="411.01,304.90 408.71,308.20 411.01,311.50" fill="none" stroke="#c81830" stroke-width="1.1"/>
<polyline points="415.06,304.90 412.76,308.20 415.06,311.50" fill="none" stroke="#c81830" stroke-width="1.1"/>
<polyline points="419.12,304.90 416.82,308.20 419.12,311.50" fill="none" stroke="#c81830" stroke-width="1.1"/>
<polyline points="423.18,304.90 420.88,308.20 423.18,311.50" fill="none" stroke="#c81830" stroke-width="1.1"/>
<polyline points="427.23,304.90 424.93,308.20 427.23,311.50" fill="none" stroke="#c81830" stroke-width="1.1"/>
<polyline points="431.29,304.90 428.99,308.20 431.29,311.50" fill="none" stroke="#c81830" stroke-width="1.1"/>
<polyline points="435.34,304.90 433.04,308.20 435.34,311.50" fill="none" stroke="#c81830" stroke-width="1.1"/>
<polyline points="439.40,304.90 437.10,308.20 439.40,311.50" fill="none" stroke="#c81830" stroke-width="1.1"/>
<polyline points="443.46,304.90 441.16,308.20 443.46,311.50" fill="none" stroke="#c81830" stroke-width="1.1"/>
<polyline points="447.51,304.90 445.21,308.20 447.51,311.50" fill="none" stroke="#c81830" stroke-width="1.1"/>
<polyline points="451.57,304.90 449.27,308.20 451.57,311.50" fill="none" stroke="#c81830" stroke-width="1.1"/>
<polyline points="455.62,304.90 453.32,308.20 455.62,311.50" fill="none" stroke="#c81830" stroke-width="1.1"/>
<polyline points="459.68,304.90 457.38,308.20 459.68,311.50" fill="none" stroke="#c81830" stroke-width="1.1"/>
<polyline points="463.74,304.90 461.44,308.20 463.74,311.50" fill="none" stroke="#c81830" stroke-width="1.1"/>
<polyline points="467.79,304.90 465.49,308.20 467.79,311.50" fill="none" stroke="#c81830" stroke-width="1.1"/>
<polyline points="471.85,304.90 469.55,308.20 471.85,311.50" fill="none" stroke="#c81830" stroke-width="1.1"/>
<polyline points="475.90,304.90 473.60,308.20 475.90,311.50" fill="none" stroke="#c81830" stroke-width="1.1"/>
<polyline points="479.96,304.90 477.66,308.20 479.96,311.50" fill="none" stroke="#c81830" stroke-width="1.1"/>
<polyline points="484.02,304.90 481.72,308.20 484.02,311.50" fill="none" stroke="#c81830" stroke-width="1.1"/>
<polyline points="488.07,304.90 485.77,308.20 488.07,311.50" fill="none" stroke="#c81830" stroke-width="1.1"/>
<polyline points="492.13,304.90 489.83,308.20 492.13,311.50" fill="none" stroke="#c81830" stroke-width="1.1"/>
<polyline points="496.18,304.90 493.88,308.20 496.18,311.50" fill="none" stroke="#c81830" stroke-width="1.1"/>
<polyline points="500.24,304.90 497.94,308.20 500.24,311.50" fill="none" stroke="#c81830" stroke-width="1.1"/>
<polyline points="504.30,304.90 502.00,308.20 504.30,311.50" fill="none" stroke="#c81830" stroke-width="1.1"/>
<polyline points="508.35,304.90 506.05,308.20 508.35,311.50" fill="none" stroke="#c81830" stroke-width="1.1"/>
<polyline points="512.41,304.90 510.11,308.20 512.41,311.50" fill="none" stroke="#c81830" stroke-width="1.1"/>
<polyline points="516.46,304.90 514.16,308.20 516.46,311.50" fill="none" stroke="#c81830" stroke-width="1.1"/>
<polyline points="520.52,304.90 518.22,308.20 520.52,311.50" fill="none" stroke="#c81830" stroke-width="1.1"/>
<polyline points="524.58,304.90 522.28,308.20 524.58,311.50" fill="none" stroke="#c81830" stroke-width="1.1"/>
<polyline points="528.63,304.90 526.33,308.20 528.63,311.50" fill="none" stroke="#c81830" stroke-width="1.1"/>
<polyline points="532.69,304.90 530.39,308.20 532.69,311.50" fill="none" stroke="#c81830" stroke-width="1.1"/>
<polyline points="536.74,304.90 534.44,308.20 536.74,311.50" fill="none" stroke="#c81830" stroke-width="1.1"/>
<polyline points="540.80,304.90 538.50,308.20 540.80,311.50" fill="none" stroke="#c81830" stroke-width="1.1"/>
<path d="M538.23,308.20L541.53,303.20L544.83,308.20L541.53,313.20Z" fill="#0072bd"/>
<path d="M539.48,308.20L541.53,305.15L543.58,308.20L541.53,311.25Z" fill="#f00"/>
<path d="M546.34,308.20L549.64,303.20L552.94,308.20L549.64,313.20Z" fill="#0072bd"/>
<path d="M548.37,308.20L551.67,303.20L554.97,308.20L551.67,313.20Z" fill="#0072bd"/>
<path d="M550.40,308.20L553.70,303.20L557.00,308.20L553.70,313.20Z" fill="#0072bd"/>
<path d="M552.42,308.20L555.72,303.20L559.02,308.20L555.72,313.20Z" fill="#0072bd"/>
<path d="M554.45,308.20L557.75,303.20L561.05,308.20L557.75,313.20Z" fill="#0072bd"/>
<path d="M556.48,308.20L559.78,303.20L563.08,308.20L559.78,313.20Z" fill="#0072bd"/>
<path d="M558.51,308.20L561.81,303.20L565.11,308.20L561.81,313.20Z" fill="#0072bd"/>
<path d="M560.54,308.20L563.84,303.20L567.14,308.20L563.84,313.20Z" fill="#0072bd"/>
<path d="M562.56,308.20L565.86,303.20L569.16,308.20L565.86,313.20Z" fill="#0072bd"/>
<path d="M564.59,308.20L567.89,303.20L571.19,308.20L567.89,313.20Z" fill="#0072bd"/>
<path d="M566.62,308.20L569.92,303.20L573.22,308.20L569.92,313.20Z" fill="#0072bd"/>
<path d="M568.65,308.20L571.95,303.20L575.25,308.20L571.95,313.20Z" fill="#0072bd"/>
<path d="M570.68,308.20L573.98,303.20L577.28,308.20L573.98,313.20Z" fill="#0072bd"/>
<path d="M572.70,308.20L576.00,303.20L579.30,308.20L576.00,313.20Z" fill="#0072bd"/>
<path d="M574.73,308.20L578.03,303.20L581.33,308.20L578.03,313.20Z" fill="#0072bd"/>
<path d="M576.76,308.20L580.06,303.20L583.36,308.20L580.06,313.20Z" fill="#0072bd"/>
<path d="M578.79,308.20L582.09,303.20L585.39,308.20L582.09,313.20Z" fill="#0072bd"/>
<path d="M580.82,308.20L584.12,303.20L587.42,308.20L584.12,313.20Z" fill="#0072bd"/>
<path d="M582.84,308.20L586.14,303.20L589.44,308.20L586.14,313.20Z" fill="#0072bd"/>
<path d="M584.87,308.20L588.17,303.20L591.47,308.20L588.17,313.20Z" fill="#0072bd"/>
<path d="M586.90,308.20L590.20,303.20L593.50,308.20L590.20,313.20Z" fill="#0072bd"/>
<path d="M588.93,308.20L592.23,303.20L595.53,308.20L592.23,313.20Z" fill="#0072bd"/>
<path d="M590.96,308.20L594.26,303.20L597.56,308.20L594.26,313.20Z" fill="#0072bd"/>
<path d="M592.98,308.20L596.28,303.20L599.58,308.20L596.28,313.20Z" fill="#0072bd"/>
<path d="M595.01,308.20L598.31,303.20L601.61,308.20L598.31,313.20Z" fill="#0072bd"/>
<path d="M597.04,308.20L600.34,303.20L603.64,308.20L600.34,313.20Z" fill="#0072bd"/>
<path d="M599.07,308.20L602.37,303.20L605.67,308.20L602.37,313.20Z" fill="#0072bd"/>
<path d="M601.10,308.20L604.40,303.20L607.70,308.20L604.40,313.20Z" fill="#0072bd"/>
<path d="M603.12,308.20L606.42,303.20L609.72,308.20L606.42,313.20Z" fill="#0072bd"/>
<path d="M605.15,308.20L608.45,303.20L611.75,308.20L608.45,313.20Z" fill="#0072bd"/>
<path d="M607.18,308.20L610.48,303.20L613.78,308.20L610.48,313.20Z" fill="#0072bd"/>
<path d="M609.21,308.20L612.51,303.20L615.81,308.20L612.51,313.20Z" fill="#0072bd"/>
<path d="M611.24,308.20L614.54,303.20L617.84,308.20L614.54,313.20Z" fill="#0072bd"/>
<path d="M613.26,308.20L616.56,303.20L619.86,308.20L616.56,313.20Z" fill="#0072bd"/>
<path d="M615.29,308.20L618.59,303.20L621.89,308.20L618.59,313.20Z" fill="#0072bd"/>
<path d="M617.32,308.20L620.62,303.20L623.92,308.20L620.62,313.20Z" fill="#0072bd"/>
<path d="M619.35,308.20L622.65,303.20L625.95,308.20L622.65,313.20Z" fill="#0072bd"/>
<path d="M621.38,308.20L624.68,303.20L627.98,308.20L624.68,313.20Z" fill="#0072bd"/>
<path d="M623.40,308.20L626.70,303.20L630.00,308.20L626.70,313.20Z" fill="#0072bd"/>
<path d="M625.43,308.20L628.73,303.20L632.03,308.20L628.73,313.20Z" fill="#0072bd"/>
<path d="M627.46,308.20L630.76,303.20L634.06,308.20L630.76,313.20Z" fill="#0072bd"/>
<path d="M629.49,308.20L632.79,303.20L636.09,308.20L632.79,313.20Z" fill="#0072bd"/>
<path d="M631.52,308.20L634.82,303.20L638.12,308.20L634.82,313.20Z" fill="#0072bd"/>
<path d="M633.54,308.20L636.84,303.20L640.14,308.20L636.84,313.20Z" fill="#0072bd"/>
<path d="M635.57,308.20L638.87,303.20L642.17,308.20L638.87,313.20Z" fill="#0072bd"/>
<path d="M637.60,308.20L640.90,303.20L644.20,308.20L640.90,313.20Z" fill="#0072bd"/>
<path d="M639.63,308.20L642.93,303.20L646.23,308.20L642.93,313.20Z" fill="#0072bd"/>
<path d="M641.66,308.20L644.96,303.20L648.26,308.20L644.96,313.20Z" fill="#0072bd"/>
<path d="M643.68,308.20L646.98,303.20L650.28,308.20L646.98,313.20Z" fill="#0072bd"/>
<path d="M645.71,308.20L649.01,303.20L652.31,308.20L649.01,313.20Z" fill="#0072bd"/>
<path d="M647.74,308.20L651.04,303.20L654.34,308.20L651.04,313.20Z" fill="#0072bd"/>
<path d="M649.77,308.20L653.07,303.20L656.37,308.20L653.07,313.20Z" fill="#0072bd"/>
<path d="M651.80,308.20L655.10,303.20L658.40,308.20L655.10,313.20Z" fill="#0072bd"/>
<path d="M653.82,308.20L657.12,303.20L660.42,308.20L657.12,313.20Z" fill="#0072bd"/>
<path d="M655.85,308.20L659.15,303.20L662.45,308.20L659.15,313.20Z" fill="#0072bd"/>
<path d="M657.88,308.20L661.18,303.20L664.48,308.20L661.18,313.20Z" fill="#0072bd"/>
<path d="M659.91,308.20L663.21,303.20L666.51,308.20L663.21,313.20Z" fill="#0072bd"/>
<path d="M661.94,308.20L665.24,303.20L668.54,308.20L665.24,313.20Z" fill="#0072bd"/>
<path d="M663.96,308.20L667.26,303.20L670.56,308.20L667.26,313.20Z" fill="#0072bd"/>
<polyline points="552.97,304.90 550.67,308.20 552.97,311.50" fill="none" stroke="#c81830" stroke-width="1.1"/>
<polyline points="557.02,304.90 554.72,308.20 557.02,311.50" fill="none" stroke="#c81830" stroke-width="1.1"/>
<polyline points="561.08,304.90 558.78,308.20 561.08,311.50" fill="none" stroke="#c81830" stroke-width="1.1"/>
<polyline points="565.14,304.90 562.84,308.20 565.14,311.50" fill="none" stroke="#c81830" stroke-width="1.1"/>
<polyline points="569.19,304.90 566.89,308.20 569.19,311.50" fill="none" stroke="#c81830" stroke-width="1.1"/>
<polyline points="573.25,304.90 570.95,308.20 573.25,311.50" fill="none" stroke="#c81830" stroke-width="1.1"/>
<polyline points="577.30,304.90 575.00,308.20 577.30,311.50" fill="none" stroke="#c81830" stroke-width="1.1"/>
<polyline points="581.36,304.90 579.06,308.20 581.36,311.50" fill="none" stroke="#c81830" stroke-width="1.1"/>
<polyline points="585.42,304.90 583.12,308.20 585.42,311.50" fill="none" stroke="#c81830" stroke-width="1.1"/>
<polyline points="589.47,304.90 587.17,308.20 589.47,311.50" fill="none" stroke="#c81830" stroke-width="1.1"/>
<polyline points="593.53,304.90 591.23,308.20 593.53,311.50" fill="none" stroke="#c81830" stroke-width="1.1"/>
<polyline points="597.58,304.90 595.28,308.20 597.58,311.50" fill="none" stroke="#c81830" stroke-width="1.1"/>
<polyline points="601.64,304.90 599.34,308.20 601.64,311.50" fill="none" stroke="#c81830" stroke-width="1.1"/>
<polyline points="605.70,304.90 603.40,308.20 605.70,311.50" fill="none" stroke="#c81830" stroke-width="1.1"/>
<polyline points="609.75,304.90 607.45,308.20 609.75,311.50" fill="none" stroke="#c81830" stroke-width="1.1"/>
<polyline points="613.81,304.90 611.51,308.20 613.81,311.50" fill="none" stroke="#c81830" stroke-width="1.1"/>
<polyline points="617.86,304.90 615.56,308.20 617.86,311.50" fill="none" stroke="#c81830" stroke-width="1.1"/>
<polyline points="621.92,304.90 619.62,308.20 621.92,311.50" fill="none" stroke="#c81830" stroke-width="1.1"/>
<polyline points="625.98,304.90 623.68,308.20 625.98,311.50" fill="none" stroke="#c81830" stroke-width="1.1"/>
<polyline points="630.03,304.90 627.73,308.20 630.03,311.50" fill="none" stroke="#c81830" stroke-width="1.1"/>
<polyline points="634.09,304.90 631.79,308.20 634.09,311.50" fill="none" stroke="#c81830" stroke-width="1.1"/>
<polyline points="638.14,304.90 635.84,308.20 638.14,311.50" fill="none" stroke="#c81830" stroke-width="1.1"/>
<polyline points="642.20,304.90 639.90,308.20 642.20,311.50" fill="none" stroke="#c81830" stroke-width="1.1"/>
<polyline points="646.26,304.90 643.96,308.20 646.26,311.50" fill="none" stroke="#c81830" stroke-width="1.1"/>
<polyline points="650.31,304.90 648.01,308.20 650.31,311.50" fill="none" stroke="#c81830" stroke-width="1.1"/>
<polyline points="654.37,304.90 652.07,308.20 654.37,311.50" fill="none" stroke="#c81830" stroke-width="1.1"/>
<polyline points="658.42,304.90 656.12,308.20 658.42,311.50" fill="none" stroke="#c81830" stroke-width="1.1"/>
<polyline points="662.48,304.90 660.18,308.20 662.48,311.50" fill="none" stroke="#c81830" stroke-width="1.1"/>
<polyline points="666.54,304.90 664.24,308.20 666.54,311.50" fill="none" stroke="#c81830" stroke-width="1.1"/>
<path d="M663.96,308.20L667.26,303.20L670.56,308.20L667.26,313.20Z" fill="#0072bd"/>
<path d="M665.21,308.20L667.26,305.15L669.31,308.20L667.26,311.25Z" fill="#f00"/>
<path d="M394.24,295.45L397.54,290.45L400.84,295.45L397.54,300.45Z" fill="#0072bd"/>
<path d="M395.49,295.45L397.54,292.40L399.59,295.45L397.54,298.50Z" fill="#f00"/>
<path d="M396.27,282.70L399.57,277.70L402.87,282.70L399.57,287.70Z" fill="#0072bd"/>
<path d="M397.52,282.70L399.57,279.65L401.62,282.70L399.57,285.75Z" fill="#f00"/>
<path d="M398.30,269.95L401.60,264.95L404.90,269.95L401.60,274.95Z" fill="#0072bd"/>
<path d="M399.55,269.95L401.60,266.90L403.65,269.95L401.60,273.00Z" fill="#f00"/>
<path d="M540.26,295.45L543.56,290.45L546.86,295.45L543.56,300.45Z" fill="#0072bd"/>
<path d="M541.51,295.45L543.56,292.40L545.61,295.45L543.56,298.50Z" fill="#f00"/>
<path d="M542.28,282.70L545.58,277.70L548.88,282.70L545.58,287.70Z" fill="#0072bd"/>
<path d="M543.53,282.70L545.58,279.65L547.63,282.70L545.58,285.75Z" fill="#f00"/>
<path d="M544.31,269.95L547.61,264.95L550.91,269.95L547.61,274.95Z" fill="#0072bd"/>
<path d="M545.56,269.95L547.61,266.90L549.66,269.95L547.61,273.00Z" fill="#f00"/>
<path d="M665.99,295.45L669.29,290.45L672.59,295.45L669.29,300.45Z" fill="#0072bd"/>
<path d="M667.24,295.45L669.29,292.40L671.34,295.45L669.29,298.50Z" fill="#f00"/>
<path d="M668.02,282.70L671.32,277.70L674.62,282.70L671.32,287.70Z" fill="#0072bd"/>
<path d="M669.27,282.70L671.32,279.65L673.37,282.70L671.32,285.75Z" fill="#f00"/>
<path d="M670.05,269.95L673.35,264.95L676.65,269.95L673.35,274.95Z" fill="#0072bd"/>
<path d="M671.30,269.95L673.35,266.90L675.40,269.95L673.35,273.00Z" fill="#f00"/>
<path d="M672.08,257.20L675.38,252.20L678.68,257.20L675.38,262.20Z" fill="#0072bd"/>
<path d="M673.33,257.20L675.38,254.15L677.43,257.20L675.38,260.25Z" fill="#f00"/>
<path d="M674.10,244.45L677.40,239.45L680.70,244.45L677.40,249.45Z" fill="#0072bd"/>
<path d="M675.35,244.45L677.40,241.40L679.45,244.45L677.40,247.50Z" fill="#f00"/>
<path d="M676.13,231.70L679.43,226.70L682.73,231.70L679.43,236.70Z" fill="#0072bd"/>
<path d="M677.38,231.70L679.43,228.65L681.48,231.70L679.43,234.75Z" fill="#f00"/>
<text x="451.86" y="226.30" font-size="10.50" font-weight="bold" fill="#000" stroke="#000" stroke-width="0.25" textLength="163.50" lengthAdjust="spacingAndGlyphs">Validation Checks = 6, at epoch 144</text>
<text transform="translate(377.00,284.46) rotate(-90)" font-size="10.30" fill="#4a4a4a" stroke="#4a4a4a" stroke-width="0.05" textLength="30.65" lengthAdjust="spacingAndGlyphs">val fail</text>
<text x="385.20" y="311.10" font-size="9.30" fill="#4a4a4a" stroke="#4a4a4a" stroke-width="0.25" text-anchor="end" textLength="5.30" lengthAdjust="spacingAndGlyphs">0</text>
<text x="385.20" y="285.60" font-size="9.30" fill="#4a4a4a" stroke="#4a4a4a" stroke-width="0.25" text-anchor="end" textLength="5.30" lengthAdjust="spacingAndGlyphs">2</text>
<text x="385.20" y="260.10" font-size="9.30" fill="#4a4a4a" stroke="#4a4a4a" stroke-width="0.25" text-anchor="end" textLength="5.30" lengthAdjust="spacingAndGlyphs">4</text>
<text x="385.20" y="233.73" font-size="9.30" fill="#4a4a4a" stroke="#4a4a4a" stroke-width="0.25" text-anchor="end" textLength="5.30" lengthAdjust="spacingAndGlyphs">6</text>
<text x="388.20" y="319.80" font-size="9.10" fill="#4a4a4a" stroke="#4a4a4a" stroke-width="0.25" text-anchor="middle" textLength="5.10" lengthAdjust="spacingAndGlyphs">0</text>
<text x="428.76" y="319.80" font-size="9.10" fill="#4a4a4a" stroke="#4a4a4a" stroke-width="0.25" text-anchor="middle" textLength="10.10" lengthAdjust="spacingAndGlyphs">20</text>
<text x="469.32" y="319.80" font-size="9.10" fill="#4a4a4a" stroke="#4a4a4a" stroke-width="0.25" text-anchor="middle" textLength="10.10" lengthAdjust="spacingAndGlyphs">40</text>
<text x="509.88" y="319.80" font-size="9.10" fill="#4a4a4a" stroke="#4a4a4a" stroke-width="0.25" text-anchor="middle" textLength="10.10" lengthAdjust="spacingAndGlyphs">60</text>
<text x="550.44" y="319.80" font-size="9.10" fill="#4a4a4a" stroke="#4a4a4a" stroke-width="0.25" text-anchor="middle" textLength="10.10" lengthAdjust="spacingAndGlyphs">80</text>
<text x="591.00" y="319.80" font-size="9.10" fill="#4a4a4a" stroke="#4a4a4a" stroke-width="0.25" text-anchor="middle" textLength="14.14" lengthAdjust="spacingAndGlyphs">100</text>
<text x="631.56" y="319.80" font-size="9.10" fill="#4a4a4a" stroke="#4a4a4a" stroke-width="0.25" text-anchor="middle" textLength="14.14" lengthAdjust="spacingAndGlyphs">120</text>
<text x="672.12" y="319.80" font-size="9.10" fill="#4a4a4a" stroke="#4a4a4a" stroke-width="0.25" text-anchor="middle" textLength="14.14" lengthAdjust="spacingAndGlyphs">140</text>
<text x="508.90" y="332.80" font-size="10.70" fill="#4a4a4a" stroke="#4a4a4a" stroke-width="0.25" textLength="50.60" lengthAdjust="spacingAndGlyphs">144 Epochs</text>
<text x="496.53" y="349.30" font-family='"Liberation Serif", serif' font-size="14.70" fill="#000" stroke="#000" stroke-width="0.25" textLength="46.60" lengthAdjust="spacingAndGlyphs">(b) STs</text>
</svg>
</body></html>
